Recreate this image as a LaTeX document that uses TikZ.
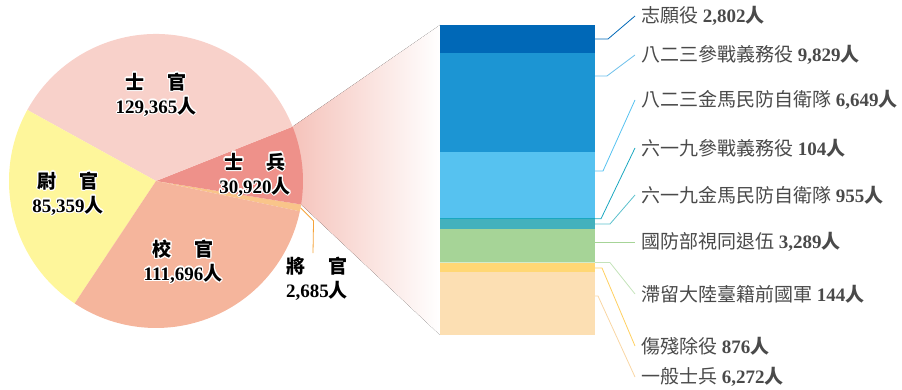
\documentclass[tikz,border=0pt]{standalone}
\usepackage{fontspec}
\setmainfont{Liberation Serif}
\newfontfamily\cjk{Noto Sans CJK TC}
\usepackage{contour}
\contourlength{1.2pt}

\definecolor{shiguan}{HTML}{F8D1CA}
\definecolor{weiguan}{HTML}{FEF69B}
\definecolor{xiaoguan}{HTML}{F5B59C}
\definecolor{shibing}{HTML}{EE918A}
\definecolor{jiangguan}{HTML}{F9C58A}
\definecolor{jline}{HTML}{F5A33A}
\definecolor{fanpink}{HTML}{F5C3BB}
\definecolor{labgray}{HTML}{4A4A4A}
\definecolor{vol}{HTML}{0068B7}
\definecolor{baer}{HTML}{1C95D3}
\definecolor{baerline}{HTML}{6BBFEA}
\definecolor{baermin}{HTML}{56C2F0}
\definecolor{liujiu}{HTML}{1AA7C0}
\definecolor{liujiumin}{HTML}{43B1BD}
\definecolor{liujiuline}{HTML}{5BC0CC}
\definecolor{mnd}{HTML}{A6D497}
\definecolor{stay}{HTML}{D3EBCB}
\definecolor{stayline}{HTML}{C4E3BA}
\definecolor{hurt}{HTML}{FFD774}
\definecolor{hurtline}{HTML}{FFD060}
\definecolor{sold}{HTML}{FCDFB3}
\definecolor{soldline}{HTML}{F9D6A3}

\newcommand\plab[3]{\contour{white}{\cjk\bfseries #1\hspace{1.2em}#2}\\\contour{white}{\bfseries #3{\cjk 人}}}
\newcommand\rlab[2]{{\cjk #1} \textbf{#2}{\cjk\bfseries 人}}
\def\R{147pt}

\begin{document}
\begin{tikzpicture}[x=1pt, y=1pt,
    plabel/.style={align=center, font=\fontsize{19}{24}\selectfont},
    rlabel/.style={anchor=west, inner xsep=6pt, text=labgray, font=\fontsize{19}{24}\selectfont},
    leader/.style={line width=0.8pt}]
    \useasboundingbox (0,0) rectangle (902,390);

    \coordinate (o) at (156,209);
    \path (o) ++(21.7:\R) coordinate (pA);
    \path (o) ++(-9.2:\R) coordinate (pB);
    \path (o) ++(-10.5:\R) coordinate (pJ);
    \coordinate (barNW) at (440,365);
    \coordinate (barSW) at (440,55);

    % Fan from the 士兵 slice to the bar
    \fill[left color=fanpink, right color=white] (pA) -- (barNW) -- (barSW) -- (pB) -- cycle;

    % Pie
    \fill[jiangguan] (o) -- ++(-11.9:\R) arc[start angle=-11.9, end angle=-9.2, radius=\R] -- cycle;
    \fill[shibing] (o) -- ++(-9.2:\R) arc[start angle=-9.2, end angle=21.7, radius=\R] -- cycle;
    \fill[shiguan] (o) -- ++(21.7:\R) arc[start angle=21.7, end angle=151.1, radius=\R] -- cycle;
    \fill[weiguan] (o) -- ++(151.1:\R) arc[start angle=151.1, end angle=236.4, radius=\R] -- cycle;
    \fill[xiaoguan] (o) -- ++(236.4:\R) arc[start angle=236.4, end angle=348.1, radius=\R] -- cycle;

    \node[plabel] (shiguanlab) at (156,295) {\plab{士}{官}{129,365}};
    \node[plabel] (shibinglab) at (255,215) {\plab{士}{兵}{30,920}};
    \node[plabel] (weiguanlab) at (68,196) {\plab{尉}{官}{85,359}};
    \node[plabel] (xiaoguanlab) at (183,128) {\plab{校}{官}{111,696}};
    \node[plabel] (jiangguanlab) at (317,111) {\plab{將}{官}{2,685}};
    \draw[leader, jline] (pJ) -- ++(13,-13) -- ([xshift=-4pt]jiangguanlab.north);

    % Bar
    \fill[vol] (440,336.9) rectangle (595,365);
    \fill[baer] (440,238.4) rectangle (595,336.9);
    \fill[baermin] (440,171.7) rectangle (595,238.4);
    \fill[liujiu] (440,170.7) rectangle (595,171.7);
    \fill[liujiumin] (440,161.1) rectangle (595,170.7);
    \fill[mnd] (440,128.1) rectangle (595,161.1);
    \fill[stay] (440,126.7) rectangle (595,128.1);
    \fill[hurt] (440,117.9) rectangle (595,126.7);
    \fill[sold] (440,55) rectangle (595,117.9);

    % Labels
    \node[rlabel] (vollab) at (635,374) {\rlab{志願役}{2,802}};
    \node[rlabel] (baerlab) at (635,335) {\rlab{八二三參戰義務役}{9,829}};
    \node[rlabel] (baerminlab) at (635,290) {\rlab{八二三金馬民防自衛隊}{6,649}};
    \node[rlabel] (liujiulab) at (635,242) {\rlab{六一九參戰義務役}{104}};
    \node[rlabel] (liujiuminlab) at (635,195) {\rlab{六一九金馬民防自衛隊}{955}};
    \node[rlabel] (mndlab) at (635,148) {\rlab{國防部視同退伍}{3,289}};
    \node[rlabel] (staylab) at (635,96) {\rlab{滯留大陸臺籍前國軍}{144}};
    \node[rlabel] (hurtlab) at (635,44) {\rlab{傷殘除役}{876}};
    \node[rlabel] (soldlab) at (635,13) {\rlab{一般士兵}{6,272}};

    % Leaders
    \draw[leader, vol] (595,351) -- ++(13,0) -- (vollab.west);
    \draw[leader, baerline] (595,314) -- ++(12,0) -- (baerlab.west);
    \draw[leader, baermin] (595,219) -- ++(8,0) -- (baerminlab.west);
    \draw[leader, liujiu] (595,171.2) -- ++(6,0) -- (liujiulab.west);
    \draw[leader, liujiuline] (595,166) -- ++(15,0) -- (liujiuminlab.west);
    \draw[leader, mnd] (595,148) -- (mndlab.west);
    \draw[leader, stayline] (595,127.4) -- ++(15,0) -- (staylab.west);
    \draw[leader, hurtline] (595,122) -- ++(7,0) -- (hurtlab.west);
    \draw[leader, soldline] (595,94) -- ++(3,0) -- (soldlab.west);

\end{tikzpicture}
\end{document}
